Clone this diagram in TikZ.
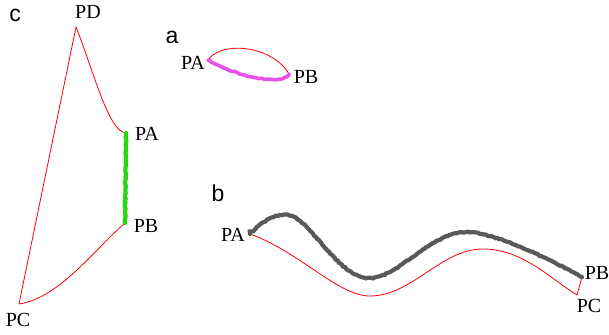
\documentclass[tikz,border=0pt]{standalone}
\usepackage{fontspec}
\setmainfont{Liberation Serif}
\newfontfamily\panelfont{Liberation Sans}
\usetikzlibrary{decorations.pathmorphing}
\definecolor{pinkline}{RGB}{232,80,232}
\definecolor{greenline}{RGB}{40,215,20}

\begin{document}
\begin{tikzpicture}[x=1pt,y=-1pt,
    lbl/.style={font=\fontsize{20}{20}\selectfont, inner sep=0pt},
    panel/.style={font=\panelfont\fontsize{23}{23}\selectfont, inner sep=0pt},
    redline/.style={red, line width=0.8pt},
    wavy/.style={line width=4.2pt, line cap=round, decorate,
        decoration={random steps, segment length=2pt, amplitude=0.5pt}}]
    \pgfmathsetseed{7}
    \useasboundingbox (0,0) rectangle (609,334);

    % panel c
    \node[panel] (c) at (15,15) {c};
    \coordinate (cPD) at (76,27);
    \coordinate (cPA) at (126,133);
    \coordinate (cPB) at (125,223);
    \coordinate (cPC) at (19,304);
    \node[lbl] (cPDl) at (88,12)   {PD};
    \node[lbl] (cPAl) at (147,134) {PA};
    \node[lbl] (cPBl) at (146,226) {PB};
    \node[lbl] (cPCl) at (18,320)  {PC};

    \draw[redline] (cPD) -- (cPC);
    \draw[redline] (cPD) .. controls +(18,45) and +(-18,-2) .. (cPA);
    \draw[redline] (cPB) .. controls +(-32,28) and +(40,-6) .. (cPC);
    \draw[wavy, greenline] (cPA) -- (cPB);

    % panel a
    \node[panel] (a) at (172,37) {a};
    \coordinate (aPA) at (208,60);
    \coordinate (aPB) at (289,74);
    \node[lbl] (aPAl) at (193,63) {PA};
    \node[lbl] (aPBl) at (306,77) {PB};

    \draw[redline] (aPA) .. controls +(14,-20) and +(-16,-28) .. (aPB);
    \draw[wavy, pinkline, line width=3.6pt] (aPA) .. controls +(32,18) and +(-6,12) .. (aPB);

    % panel b
    \node[panel] (b) at (218,193) {b};
    \coordinate (bPA) at (250,234);
    \coordinate (bPB) at (582,277);
    \coordinate (bPC) at (577,295);
    \coordinate (bt1) at (292,216);
    \coordinate (bt2) at (367,278);
    \coordinate (bt3) at (466,232);
    \coordinate (br2) at (370,296);
    \coordinate (br3) at (483,249);
    \node[lbl] (bPAl) at (233,235) {PA};
    \node[lbl] (bPBl) at (597,273) {PB};
    \node[lbl] (bPCl) at (589,306) {PC};

    \draw[redline] (bPA) .. controls +(50,18) and +(-32,0) .. (br2)
        .. controls +(42,0) and +(-42,0) .. (br3)
        .. controls +(40,0) and +(-25,-15) .. (bPC) -- (bPB);
    \draw[wavy, black!65] plot[smooth, tension=0.6] coordinates {(bPA) (bt1) (bt2) (bt3) (bPB)};
\end{tikzpicture}
\end{document}
